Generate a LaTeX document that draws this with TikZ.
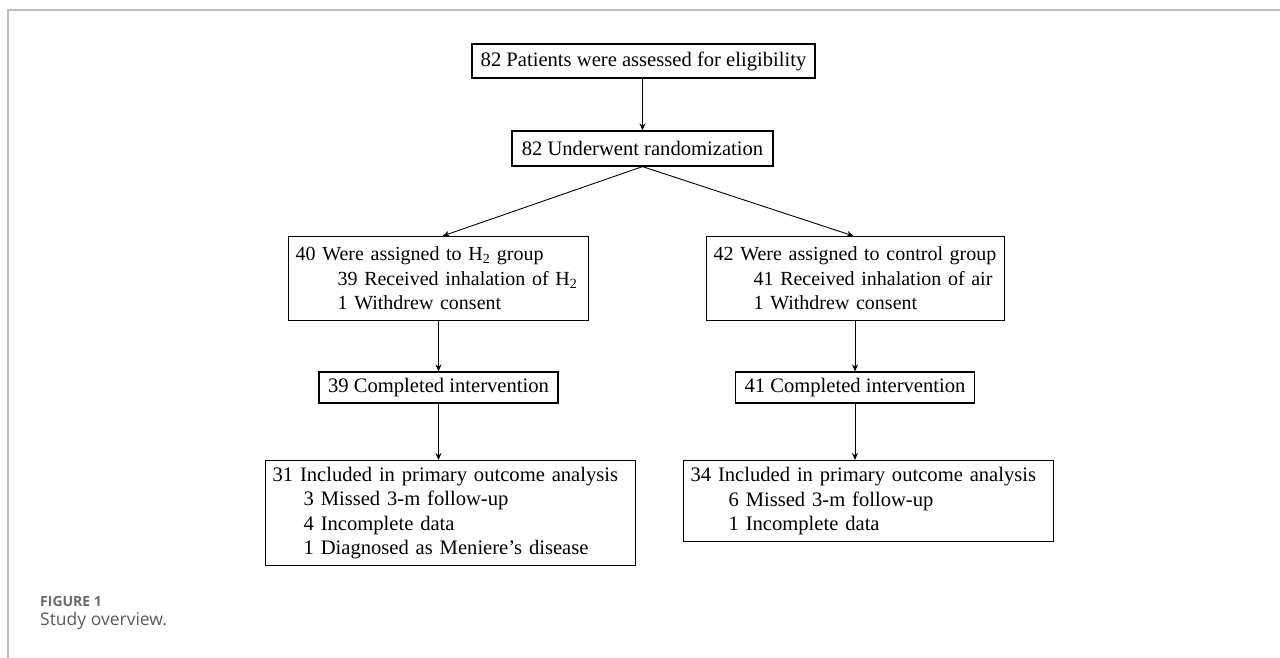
\documentclass[tikz,border=0pt]{standalone}
\usepackage{fontspec}
\setmainfont{Liberation Serif}
\newfontfamily\capfont{Open Sans}
\usetikzlibrary{arrows.meta}
\definecolor{framegray}{HTML}{BDBDBD}
\definecolor{capgray}{HTML}{6A6A6A}
\definecolor{capgray2}{HTML}{5A5A5A}
\begin{document}
\begin{tikzpicture}[x=1pt,y=-1pt,
  box/.style={draw, line width=1.2pt, inner ysep=0pt, inner xsep=0pt, font=\fontsize{20.6}{24.5}\selectfont},
  lbox/.style={box, anchor=north west, inner xsep=7pt, align=left},
  arr/.style={-{Stealth[length=7pt,width=6pt]}, line width=0.9pt}]
\useasboundingbox (0,0) rectangle (1280,658);
\draw[framegray, line width=2pt] (8,658) -- (8,10) -- (1280,10);

\node[box, minimum width=343pt, minimum height=34pt] (b1) at (643.5,61) {82 Patients were assessed for eligibility};
\node[box, minimum width=261pt, minimum height=35pt] (b2) at (642.5,148.5) {82 Underwent randomization};

\node[lbox, text width=286pt, minimum height=84pt, font=\fontsize{20}{24.5}\selectfont] (b3) at (288,236)
  {\mbox{40 Were assigned to H\textsubscript{2} group}\\
   \mbox{\hspace*{42pt}39 Received inhalation of H\textsubscript{2}}\\
   \mbox{\hspace*{42pt}1 Withdrew consent}};
\node[lbox, text width=284pt, minimum height=84pt, font=\fontsize{20}{24.5}\selectfont] (b4) at (706,236)
  {\mbox{42 Were assigned to control group}\\
   \mbox{\hspace*{40pt}41 Received inhalation of air}\\
   \mbox{\hspace*{40pt}1 Withdrew consent}};

\node[box, minimum width=239pt, minimum height=31pt] (b5) at (438.5,387.5) {39 Completed intervention};
\node[box, minimum width=239pt, minimum height=31pt] (b6) at (855,387.5) {41 Completed intervention};

\node[lbox, text width=356pt, minimum height=105pt] (b7) at (265,460)
  {\mbox{31 Included in primary outcome analysis}\\
   \mbox{\hspace*{31pt}3 Missed 3-m follow-up}\\
   \mbox{\hspace*{31pt}4 Incomplete data}\\
   \mbox{\hspace*{31pt}1 Diagnosed as Meniere’s disease}};
\node[lbox, text width=356pt, minimum height=81pt] (b8) at (683,460)
  {\mbox{34 Included in primary outcome analysis}\\
   \mbox{\hspace*{38pt}6 Missed 3-m follow-up}\\
   \mbox{\hspace*{38pt}1 Incomplete data}};

\draw[arr] (b2.north |- b1.south) -- (b2.north);
\draw[arr] (b2.south) -- ([xshift=4pt]b3.north);
\draw[arr] (b2.south) -- ([xshift=-2pt]b4.north);
\draw[arr] (b5.north |- b3.south) -- (b5.north);
\draw[arr] (b6.north |- b4.south) -- (b6.north);
\draw[arr] (b5.south) -- (b5.south |- b7.north);
\draw[arr] (b6.south) -- (b6.south |- b8.north);

\node[anchor=base west, inner sep=0pt, text=capgray, font=\capfont\bfseries\fontsize{14}{16}\selectfont] (fig) at (40,606) {FIGURE 1};
\node[anchor=base west, inner sep=0pt, text=capgray2, font=\capfont\fontsize{17.5}{20}\selectfont] (cap) at (40,625) {Study overview.};
\end{tikzpicture}
\end{document}
